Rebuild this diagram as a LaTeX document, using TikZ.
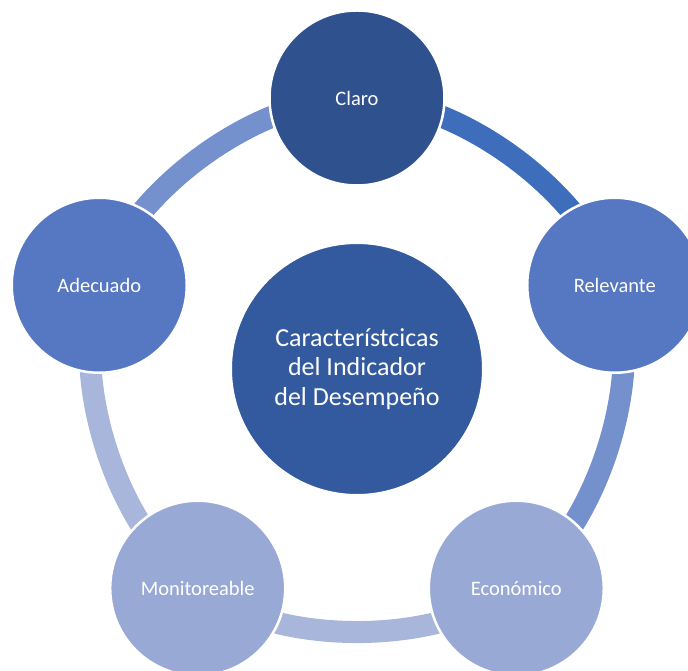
\documentclass[tikz,border=0pt]{standalone}
\usepackage{fontspec}
\setmainfont{Carlito}
\usetikzlibrary{backgrounds}

\definecolor{darkblue}{HTML}{2F528F}
\definecolor{coreblue}{HTML}{335A9F}
\definecolor{midblue}{HTML}{5677C1}
\definecolor{paleblue}{HTML}{98A9D6}
\definecolor{ringA}{HTML}{3D6DBB}
\definecolor{ringB}{HTML}{7490CD}
\definecolor{ringC}{HTML}{A8B6DB}

\begin{document}
\begin{tikzpicture}[x=1pt,y=1pt,
  outer node/.style={circle,draw=white,line width=2.5pt,minimum size=175pt,inner sep=0pt,
    text=white,font=\fontsize{20.5}{24}\selectfont},
  main node/.style={circle,draw=white,line width=2pt,fill=coreblue,minimum size=252pt,inner sep=0pt,
    text=white,align=center,font=\fontsize{26}{29.5}\selectfont}]

  \tikzstyle{ring} = [draw,line width=22pt,-,bend left=36,looseness=0.8]

  \useasboundingbox (-357,-302) rectangle (331,369);
  \clip (-357,-302) rectangle (331,369);

  \node[main node] (0) at (0,0) {Característcicas\\del Indicador\\del Desempeño};
  \node[outer node,fill=darkblue] (1) at (90:271) {Claro};
  \node[outer node,fill=midblue] (2) at (18:271) {Relevante};
  \node[outer node,fill=paleblue] (3) at (-54:271) {Económico};
  \node[outer node,fill=paleblue] (4) at (-126:271) {Monitoreable};
  \node[outer node,fill=midblue] (5) at (162:271) {Adecuado};

  \begin{scope}[on background layer]
  \path
    (1.center) edge [ring,ringA] (2.center)
    (2.center) edge [ring,ringB] (3.center)
    (3.center) edge [ring,ringC] (4.center)
    (4.center) edge [ring,ringC] (5.center)
    (5.center) edge [ring,ringB] (1.center);
  \end{scope}
\end{tikzpicture}
\end{document}
